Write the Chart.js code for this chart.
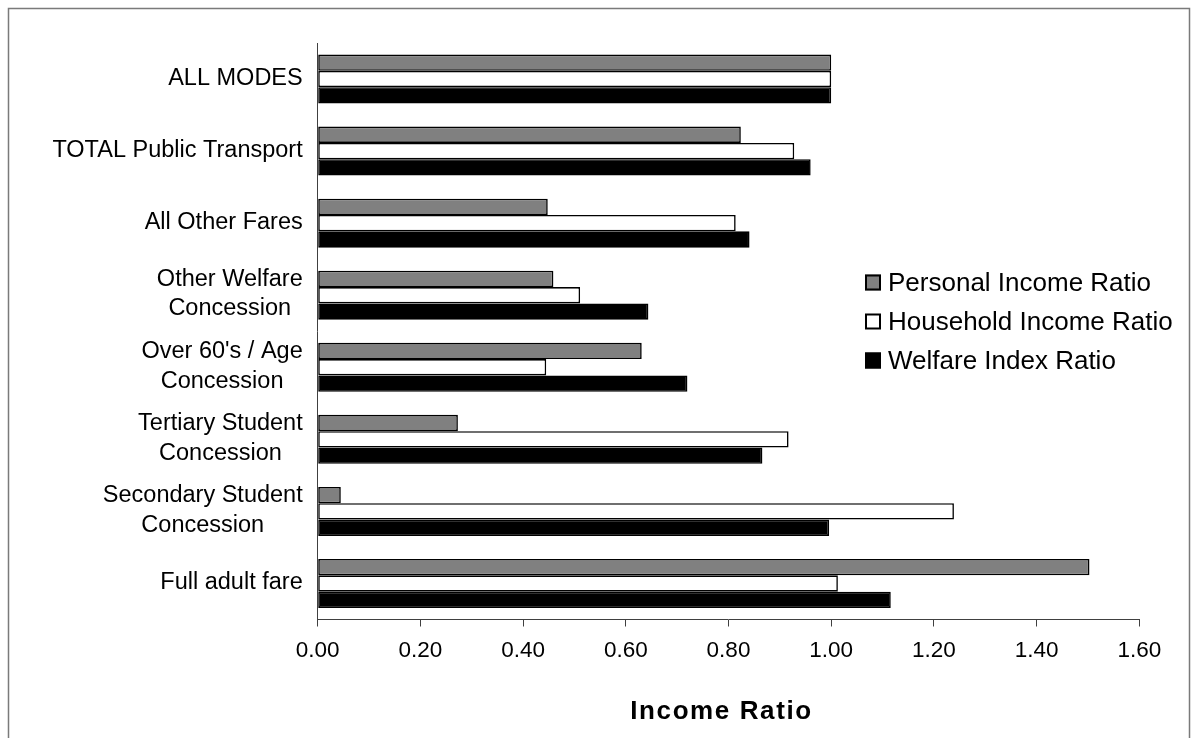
<!DOCTYPE html>
<html>
<head>
<meta charset="utf-8">
<script src="https://cdn.jsdelivr.net/npm/chart.js@4.4.1/dist/chart.umd.min.js"></script>
<style>
  html, body { margin: 0; padding: 0; background: #fff; }
  canvas { display: block; }
</style>
</head>
<body>
<canvas id="c" width="1192" height="738"></canvas>
<script>
// Fare categories (top to bottom); multi-line labels are arrays of lines
const categories = [
  ['ALL MODES'],
  ['TOTAL Public Transport'],
  ['All Other Fares'],
  ['Other Welfare', 'Concession'],
  ["Over 60's / Age", 'Concession'],
  ['Tertiary Student', 'Concession'],
  ['Secondary Student', 'Concession'],
  ['Full adult fare']
];

const seriesNames = ['Personal Income Ratio', 'Household Income Ratio', 'Welfare Index Ratio'];

const personalIncomeRatio  = [1.00, 0.824, 0.448, 0.459, 0.631, 0.273, 0.045, 1.503];
const householdIncomeRatio = [1.00, 0.928, 0.814, 0.511, 0.445, 0.917, 1.239, 1.013];
const welfareIndexRatio    = [1.00, 0.960, 0.841, 0.644, 0.720, 0.866, 0.996, 1.116];

const xTickLabels = ['0.00', '0.20', '0.40', '0.60', '0.80', '1.00', '1.20', '1.40', '1.60'];
const axisTitle = 'Income Ratio';

const FONT = "'Liberation Sans', Arial, Helvetica, sans-serif";
const seriesFill = ['#808080', '#ffffff', '#000000'];
const axisColor = '#404040';

// Frame, category labels, legend and axis title
const decor = {
  id: 'decor',
  afterDraw(chart) {
    const ctx = chart.ctx;
    const area = chart.chartArea;
    const yScale = chart.scales.y;
    ctx.save();

    // outer frame
    ctx.strokeStyle = '#7a7a7a';
    ctx.lineWidth = 1.5;
    ctx.strokeRect(8.5, 8.5, 1181, 760);

    // category labels: lines centred on each other, block right-aligned
    ctx.fillStyle = '#000';
    ctx.font = '23.5px ' + FONT;
    ctx.textAlign = 'center';
    ctx.textBaseline = 'middle';
    const lineH = 29.5;
    categories.forEach((lines, i) => {
      const cy = yScale.getPixelForTick(i) - 1;
      const w = Math.max(...lines.map(l => ctx.measureText(l).width));
      const cx = area.left - 15 - w / 2;
      lines.forEach((l, k) => {
        ctx.fillText(l, cx, cy + (k - (lines.length - 1) / 2) * lineH);
      });
    });

    // legend
    ctx.font = '26px ' + FONT;
    ctx.textAlign = 'left';
    const legendCenters = [282.5, 321.5, 360.5];
    seriesNames.forEach((name, i) => {
      const cy = legendCenters[i];
      ctx.fillStyle = seriesFill[i];
      ctx.fillRect(865, cy - 8, 16, 16);
      ctx.strokeStyle = '#000';
      ctx.lineWidth = 2;
      ctx.strokeRect(866, cy - 7, 14, 14);
      ctx.fillStyle = '#000';
      ctx.fillText(name, 888, cy + 1);
    });

    // x axis title
    ctx.font = 'bold 26px ' + FONT;
    ctx.textAlign = 'center';
    if ('letterSpacing' in ctx) ctx.letterSpacing = '1.6px';
    ctx.fillText(axisTitle, (area.left + area.right) / 2 - 7, 712);
    ctx.restore();
  }
};

const barStyle = (i) => ({
  backgroundColor: seriesFill[i],
  borderColor: '#000',
  borderWidth: 1.6,
  borderSkipped: false,
  categoryPercentage: 0.68,
  barPercentage: 1.0
});

new Chart(document.getElementById('c'), {
  type: 'bar',
  data: {
    labels: categories,
    datasets: [
      { label: seriesNames[0], data: personalIncomeRatio, ...barStyle(0) },
      { label: seriesNames[1], data: householdIncomeRatio, ...barStyle(1) },
      { label: seriesNames[2], data: welfareIndexRatio, ...barStyle(2) }
    ]
  },
  options: {
    indexAxis: 'y',
    responsive: false,
    animation: false,
    events: [],
    layout: { padding: { top: 43, right: 52.7, left: 0, bottom: 0 } },
    plugins: {
      legend: { display: false },
      tooltip: { enabled: false }
    },
    scales: {
      x: {
        type: 'linear',
        min: 0,
        max: 1.6,
        ticks: {
          stepSize: 0.2,
          autoSkip: false,
          maxRotation: 0,
          padding: 11,
          color: '#000',
          font: { family: FONT, size: 22.5 },
          callback: (v, i) => xTickLabels[i]
        },
        grid: { drawOnChartArea: false, drawTicks: true, tickLength: 7, color: axisColor, lineWidth: 1 },
        border: { display: true, color: axisColor, width: 1 },
        afterFit: (s) => { s.height = 118.5; }
      },
      y: {
        type: 'category',
        ticks: { display: false },
        grid: { drawOnChartArea: false, drawTicks: false },
        border: { display: true, color: axisColor, width: 1 },
        afterFit: (s) => { s.width = 317.7; }
      }
    }
  },
  plugins: [decor]
});
</script>
</body>
</html>
